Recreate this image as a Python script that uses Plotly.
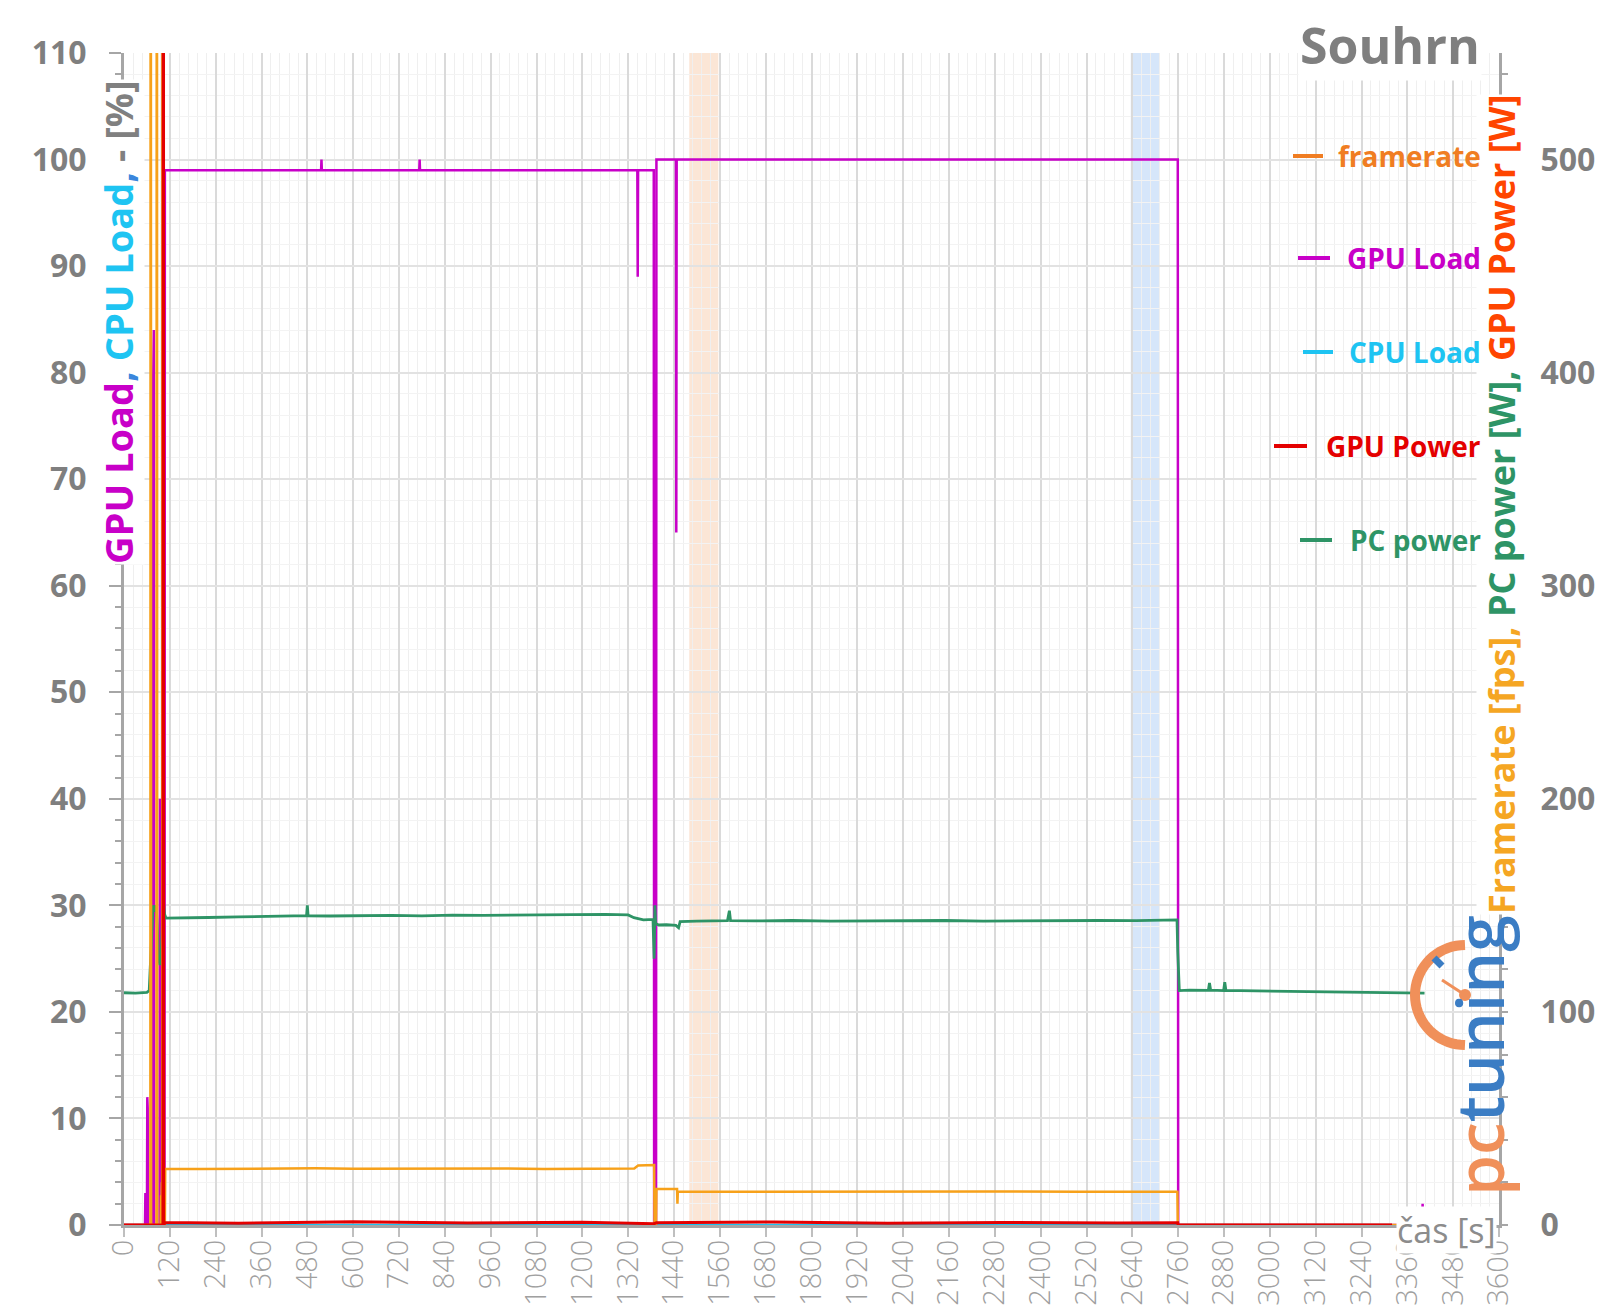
import math
import plotly.graph_objects as go

# ---------------- data ----------------
# time [s]
gpu_load_t = [0, 55, 56, 57, 60, 61, 62, 63, 75, 76, 77, 78, 79, 93, 94, 95, 96, 106, 107,
              516, 517, 518, 773, 774, 775, 1344, 1345, 1346, 1387, 1388, 1393, 1394,
              1445, 1446, 1447, 2759, 2760, 3399, 3400, 3401, 3410]
gpu_load_v = [0, 0, 3, 0, 0, 12, 11, 0, 0, 78, 82, 84, 0, 0, 40, 18, 0, 0, 99,
              99, 100, 99, 99, 100, 99, 99, 89, 99, 99, 0, 0, 100,
              100, 65, 100, 100, 0, 0, 2, 0, 0]

cpu_load_t = [0, 3320]
cpu_load_v = [0, 0]

framerate_t = [0, 69, 70, 71, 85, 86, 87, 96, 97, 98, 99, 100, 101, 102, 107, 108,
               200, 300, 400, 500, 600, 700, 800, 900, 1000, 1100, 1200, 1300,
               1336, 1346, 1388, 1389, 1393, 1394, 1448, 1449, 1450,
               1500, 1700, 1900, 2100, 2300, 2500, 2700, 2758, 2759, 3410]
framerate_v = [0, 0, 1000, 0, 0, 1000, 0, 0, 14, 6, 20, 9, 1000, 0, 0, 26.4,
               26.3, 26.5, 26.4, 26.6, 26.4, 26.5, 26.3, 26.4, 26.5, 26.3, 26.4, 26.5,
               26.5, 27.9, 28.1, 0, 0, 16.9, 16.9, 10, 15.6,
               15.6, 15.7, 15.5, 15.6, 15.7, 15.6, 15.8, 15.6, 0, 0]

gpu_power_t = [0, 102, 103, 104, 108, 300, 600, 900, 1200, 1388, 1394, 1700, 2000,
               2300, 2600, 2759, 2760, 3320]
gpu_power_v = [0, 0, 1000, 0, 1.2, 0.8, 1.5, 0.9, 1.3, 0.6, 1.1, 1.4, 0.8,
               1.2, 0.9, 1.0, 0, 0]

pc_power_t = [0, 30, 60, 66, 68, 70, 72, 74, 76, 80, 84, 87, 90, 94, 97, 100, 102, 104, 106, 110,
              160, 220, 300, 380, 440, 478, 480, 482, 540, 620, 700, 780, 860, 940, 1020,
              1100, 1180, 1260, 1320, 1335, 1360, 1385, 1388, 1390, 1392, 1400, 1420, 1445,
              1452, 1456, 1500, 1580, 1585, 1588, 1650, 1750, 1850, 1950, 2050, 2150, 2250,
              2350, 2450, 2550, 2650, 2740, 2757, 2759, 2761, 2763, 2790, 2839, 2842, 2845,
              2879, 2882, 2885, 2950, 3050, 3150, 3250, 3350, 3405]
pc_power_v = [109.0, 108.8, 109.2, 110, 118, 126, 141, 149, 150, 147, 150, 141, 126, 122, 125, 139, 150, 150, 146, 144,
              144.0, 144.3, 144.6, 144.8, 144.9, 145.2, 150.0, 145.1, 145.0, 145.2, 145.3, 145.1, 145.4, 145.3, 145.5,
              145.6, 145.7, 145.8, 145.5, 144.2, 143.2, 143.4, 125, 150, 141.5, 140.8, 140.9, 140.6,
              139.5, 142.4, 142.6, 142.8, 147.5, 142.8, 142.7, 142.9, 142.6, 142.8, 142.7, 142.9, 142.6,
              142.8, 142.7, 142.9, 142.8, 142.9, 143.2, 128, 112, 110, 110.2, 110.1, 113.6, 110.2,
              110.0, 114.0, 110.1, 109.8, 109.6, 109.4, 109.2, 108.9, 108.8]

x_ticks = list(range(0, 3601, 120))
band_orange = (1480, 1556)
band_blue = (2636, 2712)

legend_names = ["framerate", "GPU Load", "CPU Load", "GPU Power", "PC power"]

# ---------------- styles ----------------
C_FR = "#F7A11A"
C_FR_LEG = "#F07D22"
C_GL = "#C800C8"
C_CL = "#1EC4F2"
C_GP = "#E40000"
C_PC = "#2E9466"
C_AX = "#A6A6A6"
C_TXT = "#7F7F7F"
FONT = "Open Sans"

W, H = 1600, 1314
PL, PR, PT, PB = 124, 1499, 53, 1225


def fx(px):
    return (px - PL) / (PR - PL)


def fy(py):
    return (PB - py) / (PB - PT)


fig = go.Figure()
fig.add_trace(go.Scatter(x=cpu_load_t, y=cpu_load_v, mode="lines", yaxis="y",
                         line=dict(color=C_CL, width=2.5), name="CPU Load"))
fig.add_trace(go.Scatter(x=pc_power_t, y=pc_power_v, mode="lines", yaxis="y2",
                         line=dict(color=C_PC, width=2.8), name="PC power"))
fig.add_trace(go.Scatter(x=gpu_load_t, y=gpu_load_v, mode="lines", yaxis="y",
                         line=dict(color=C_GL, width=2.5), name="GPU Load"))
fig.add_trace(go.Scatter(x=framerate_t, y=framerate_v, mode="lines", yaxis="y2",
                         line=dict(color=C_FR, width=2.5), name="framerate"))
fig.add_trace(go.Scatter(x=gpu_power_t, y=gpu_power_v, mode="lines", yaxis="y2",
                         line=dict(color=C_GP, width=3), name="GPU Power"))

tickfont_y = dict(family=FONT, size=32, color=C_TXT, weight="bold")

fig.update_layout(
    width=W, height=H, autosize=False,
    margin=dict(l=PL, r=W - PR, t=PT, b=H - PB, pad=0, autoexpand=False),
    paper_bgcolor="white", plot_bgcolor="white",
    showlegend=False, hovermode=False,
    xaxis=dict(range=[0, 3600], tickmode="array", tickvals=x_ticks,
               ticktext=[str(v) for v in x_ticks], tickangle=-90, automargin=False,
               tickfont=dict(family=FONT, size=29, color="#A0A0A0", weight=300),
               showgrid=True, gridcolor="#DADADA", gridwidth=1.5,
               minor=dict(dtick=24, tick0=0, showgrid=True, gridcolor="#EFEFEF", gridwidth=1),
               ticks="outside", ticklen=9, tickwidth=2, tickcolor="#BFBFBF",
               showline=True, linecolor=C_AX, linewidth=3, zeroline=False,
               ticklabelstandoff=-9, anchor="y"),
    yaxis=dict(range=[0, 110], tickmode="linear", tick0=0, dtick=10, tickfont=tickfont_y,
               automargin=False,
               showgrid=True, gridcolor="#E2E2E2", gridwidth=1.5,
               minor=dict(dtick=2, tick0=0, showgrid=True, gridcolor="#F3F3F3", gridwidth=1,
                          ticks="outside", ticklen=6, tickwidth=2, tickcolor=C_AX),
               ticks="outside", ticklen=12, tickwidth=2, tickcolor=C_AX,
               showline=True, linecolor=C_AX, linewidth=3, zeroline=False,
               ticklabelstandoff=16),
    yaxis2=dict(range=[0, 550], overlaying="y", side="right", anchor="x", automargin=False,
                tickmode="linear", tick0=0, dtick=100, tickfont=tickfont_y,
                showgrid=False, zeroline=False,
                minor=dict(dtick=20, tick0=0, ticks="outside", ticklen=6, tickwidth=2,
                           tickcolor=C_AX, showgrid=False),
                ticks="outside", ticklen=6, tickwidth=2, tickcolor=C_AX,
                showline=True, linecolor=C_AX, linewidth=3, ticklabelstandoff=26),
    yaxis3=dict(range=[0, 110], overlaying="y", side="left", anchor="x", automargin=False,
                tickmode="linear", tick0=0, dtick=10, showticklabels=False,
                showgrid=False, zeroline=False, showline=False,
                minor=dict(dtick=2, tick0=0, ticks="", showgrid=False),
                ticks="inside", ticklen=10, tickwidth=2, tickcolor=C_AX),
    yaxis4=dict(range=[0, 550], overlaying="y", side="right", anchor="x", automargin=False,
                tickmode="linear", tick0=0, dtick=20, showticklabels=False,
                showgrid=False, zeroline=False, showline=False,
                ticks="inside", ticklen=6, tickwidth=2, tickcolor=C_AX),
)

shapes = []
for (a, b), col in ((band_orange, "rgba(250,222,200,0.75)"), (band_blue, "rgba(200,222,248,0.75)")):
    shapes.append(dict(type="rect", xref="x", yref="paper", x0=a, x1=b, y0=0, y1=1,
                       fillcolor=col, line=dict(width=0), layer="below"))

annotations = []

# axis titles
left_title = ("<span style='color:%s'>GPU Load</span><span style='color:#3A86DC'>, </span>"
              "<span style='color:%s'>CPU Load</span><span style='color:#3A86DC'>, </span>"
              "<span style='color:#808080'>- [%%]</span>") % (C_GL, C_CL)
annotations.append(dict(xref="paper", yref="paper", x=fx(118), y=fy(322), text=left_title,
                        textangle=-90, showarrow=False, xanchor="center", yanchor="middle",
                        bgcolor="white", borderpad=0,
                        font=dict(family=FONT, size=38, weight="bold")))
right_title = ("<span style='color:#F5A623'>Framerate [fps], </span>"
               "<span style='color:%s'>PC power [W], </span>"
               "<span style='color:#FF4500'>GPU Power [W]</span>") % C_PC
annotations.append(dict(xref="paper", yref="paper", x=fx(1502), y=fy(505), text=right_title,
                        textangle=-90, showarrow=False, xanchor="center", yanchor="middle",
                        bgcolor="white", borderpad=0,
                        font=dict(family=FONT, size=36, weight="bold")))

# legend (drawn manually, right-aligned like the reference), on top of the axis title box
leg_rows = [  # (y px, line x0 px, line x1 px, line colour, text colour)
    (156, 1293, 1323, C_FR_LEG, C_FR_LEG),
    (258, 1298, 1330, C_GL, C_GL),
    (352, 1303, 1333, C_CL, C_CL),
    (446, 1274, 1307, C_GP, C_GP),
    (540, 1300, 1332, C_PC, C_PC),
]
for name, (ly, lx0, lx1, lc, tc) in zip(legend_names, leg_rows):
    shapes.append(dict(type="line", xref="paper", yref="paper", x0=fx(lx0), x1=fx(lx1),
                       y0=fy(ly), y1=fy(ly), line=dict(color=lc, width=4)))
    annotations.append(dict(xref="paper", yref="paper", x=fx(1482), y=fy(ly), text=name,
                            xanchor="right", yanchor="middle", showarrow=False, borderpad=0,
                            font=dict(family=FONT, size=28, color=tc, weight="bold")))

# chart title
annotations.append(dict(xref="paper", yref="paper", x=fx(1390), y=fy(45), text="Souhrn",
                        showarrow=False, xanchor="center", yanchor="middle", bgcolor="white",
                        font=dict(family=FONT, size=50, color=C_TXT, weight="bold")))
# x axis title
annotations.append(dict(xref="paper", yref="paper", x=fx(1446), y=fy(1230), text="čas [s]",
                        showarrow=False, xanchor="center", yanchor="middle", bgcolor="white",
                        borderpad=0, font=dict(family=FONT, size=34, color="#8C8C8C")))

# pctuning logo
annotations.append(dict(xref="paper", yref="paper", x=fx(1478), y=fy(1056),
                        text="<span style='color:#F0905A'>pc</span><span style='color:#3B7DC4'>tuning</span>",
                        textangle=-90, showarrow=False, xanchor="center", yanchor="middle",
                        font=dict(family=FONT, size=66, weight=600)))
cx, cy, r = 1465, 995, 50
pts = []
for k in range(0, 37):
    ang = math.radians(90 + k * 5)
    pts.append((fx(cx + r * math.cos(ang)), fy(cy - r * math.sin(ang))))
path = "M " + " L ".join("%.5f,%.5f" % p for p in pts)
shapes.append(dict(type="path", xref="paper", yref="paper", path=path,
                   line=dict(color="#F0905A", width=10)))
shapes.append(dict(type="line", xref="paper", yref="paper", x0=fx(cx), y0=fy(cy),
                   x1=fx(1442), y1=fy(980), line=dict(color="#F0905A", width=3)))
shapes.append(dict(type="circle", xref="paper", yref="paper", x0=fx(cx - 6), x1=fx(cx + 6),
                   y0=fy(cy + 6), y1=fy(cy - 6), fillcolor="#F0905A", line=dict(width=0)))
shapes.append(dict(type="line", xref="paper", yref="paper", x0=fx(1434), y0=fy(958),
                   x1=fx(1442), y1=fy(966), line=dict(color="#3B7DC4", width=7)))

fig.update_layout(shapes=shapes, annotations=annotations)
fig.write_html("out.html")
